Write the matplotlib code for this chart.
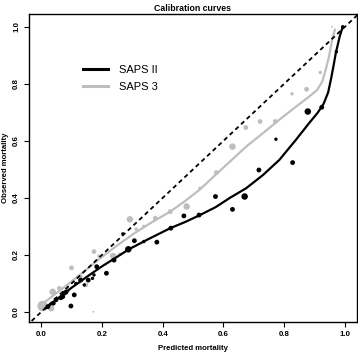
import matplotlib
matplotlib.use("Agg")
import matplotlib.pyplot as plt
from matplotlib.lines import Line2D

plt.rcParams['font.family'] = ['Liberation Sans', 'DejaVu Sans']

# ---- data ----
series_names = ["SAPS II", "SAPS 3"]

saps2_pred = [0.993, 0.972, 0.924, 0.878, 0.773, 0.828, 0.717, 0.574, 0.670, 0.630,
              0.520, 0.470, 0.427, 0.381, 0.338, 0.307, 0.287, 0.269, 0.240, 0.215,
              0.183, 0.169, 0.155, 0.130, 0.114, 0.109, 0.098, 0.076, 0.065, 0.049,
              0.022, 0.142, 0.082, 0.071, 0.040, 0.174]
saps2_obs = [1.000, 0.913, 0.718, 0.703, 0.606, 0.524, 0.498, 0.405, 0.405, 0.360,
             0.340, 0.337, 0.294, 0.245, 0.247, 0.250, 0.220, 0.274, 0.182, 0.136,
             0.159, 0.118, 0.112, 0.112, 0.100, 0.060, 0.021, 0.066, 0.050, 0.043,
             0.019, 0.095, 0.070, 0.054, 0.031, 0.130]
saps2_n = [2, 2, 3, 4, 2, 3, 3, 3, 4, 3,
           3, 3, 3, 3, 2, 3, 4, 2, 3, 3,
           3, 2, 3, 3, 2, 3, 3, 3, 3, 3,
           3, 2, 3, 3, 3, 2]

saps3_pred = [0.958, 0.919, 0.874, 0.826, 0.771, 0.721, 0.674, 0.630, 0.577, 0.523,
              0.479, 0.425, 0.376, 0.292, 0.338, 0.313, 0.237, 0.259, 0.174, 0.190,
              0.147, 0.131, 0.100, 0.060, 0.038, 0.005, 0.033, 0.172, 0.087]
saps3_obs = [1.000, 0.840, 0.781, 0.765, 0.668, 0.668, 0.647, 0.580, 0.489, 0.434,
             0.370, 0.352, 0.329, 0.325, 0.300, 0.291, 0.196, 0.203, 0.212, 0.196,
             0.095, 0.124, 0.155, 0.083, 0.071, 0.021, 0.013, 0.001, 0.077]
saps3_n = [1, 2, 3, 2, 3, 3, 3, 4, 3, 2,
           4, 3, 3, 4, 2, 2, 4, 2, 3, 2,
           3, 2, 3, 3, 4, 6, 4, 1, 3]

saps2_curve_x = [0.015, 0.05, 0.10, 0.15, 0.20, 0.245, 0.289, 0.35, 0.425, 0.475,
                 0.523, 0.575, 0.621, 0.675, 0.73, 0.784, 0.839, 0.882, 0.910,
                 0.930, 0.945, 0.955, 0.963, 0.970, 0.983, 0.993]
saps2_curve_y = [0.013, 0.043, 0.085, 0.123, 0.160, 0.190, 0.220, 0.254, 0.294, 0.316,
                 0.340, 0.368, 0.400, 0.434, 0.480, 0.533, 0.604, 0.662, 0.698,
                 0.730, 0.770, 0.820, 0.865, 0.907, 0.966, 1.000]

saps3_curve_x = [0.0, 0.05, 0.10, 0.15, 0.196, 0.25, 0.305, 0.365, 0.425, 0.475,
                 0.523, 0.57, 0.621, 0.675, 0.73, 0.784, 0.839, 0.882, 0.909,
                 0.926, 0.937, 0.948, 0.958, 0.967]
saps3_curve_y = [0.025, 0.066, 0.107, 0.150, 0.190, 0.233, 0.275, 0.315, 0.352, 0.390,
                 0.430, 0.477, 0.527, 0.580, 0.627, 0.674, 0.720, 0.755, 0.779,
                 0.809, 0.850, 0.896, 0.954, 0.990]

ref_line = [-0.05, 1.05]

x_ticks = [0.0, 0.2, 0.4, 0.6, 0.8, 1.0]
y_ticks = [0.0, 0.2, 0.4, 0.6, 0.8, 1.0]

title = "Calibration curves"
x_label = "Predicted mortality"
y_label = "Observed mortality"

# ---- drawing ----
black = "#000000"
grey = "#BEBEBE"
size_map = {1: 1.8, 2: 6.0, 3: 12.0, 4: 22.0, 6: 58.0}

fig = plt.figure(figsize=(3.58, 3.54), dpi=100)
ax = fig.add_axes([29 / 358, 1 - 322 / 354, 328 / 358, 308 / 354])

ax.scatter(saps3_pred, saps3_obs, s=[size_map[n] for n in saps3_n], c=grey,
           linewidths=0, zorder=2)
ax.scatter(saps2_pred, saps2_obs, s=[size_map[n] for n in saps2_n], c=black,
           linewidths=0, zorder=3)
ax.plot(saps3_curve_x, saps3_curve_y, color=grey, lw=1.6, zorder=4,
        solid_joinstyle='round')
ax.plot(saps2_curve_x, saps2_curve_y, color=black, lw=1.6, zorder=5,
        solid_joinstyle='round')
ax.plot(ref_line, ref_line, color=black, lw=1.3, ls=(0, (2.4, 1.9)), zorder=6)

ax.set_xlim(-0.04, 1.04)
ax.set_ylim(-0.035, 1.045)
ax.set_xticks(x_ticks)
ax.set_yticks(y_ticks)
ax.set_xticklabels([f"{v:.1f}" for v in x_ticks], fontsize=5.7, fontweight='bold')
ax.set_yticklabels([f"{v:.1f}" for v in y_ticks], fontsize=5.7, fontweight='bold',
                   rotation=90, va='center')
ax.tick_params(direction='out', length=3.5, width=0.8, pad=3)
for sp in ax.spines.values():
    sp.set_linewidth(1.0)

ax.set_title(title, fontsize=6.3, fontweight='bold', pad=2.5)
ax.set_xlabel(x_label, fontsize=5.6, fontweight='bold', labelpad=5)
ax.set_ylabel(y_label, fontsize=5.6, fontweight='bold', labelpad=3)

handles = [Line2D([], [], color=black, lw=2.2), Line2D([], [], color=grey, lw=2.2)]
ax.legend(handles, series_names, loc='center left', bbox_to_anchor=(0.165, 0.790),
          frameon=False, fontsize=8, handlelength=2.2, handletextpad=1.0,
          labelspacing=0.6, borderpad=0, borderaxespad=0)

fig.savefig("out.png", dpi=100)
